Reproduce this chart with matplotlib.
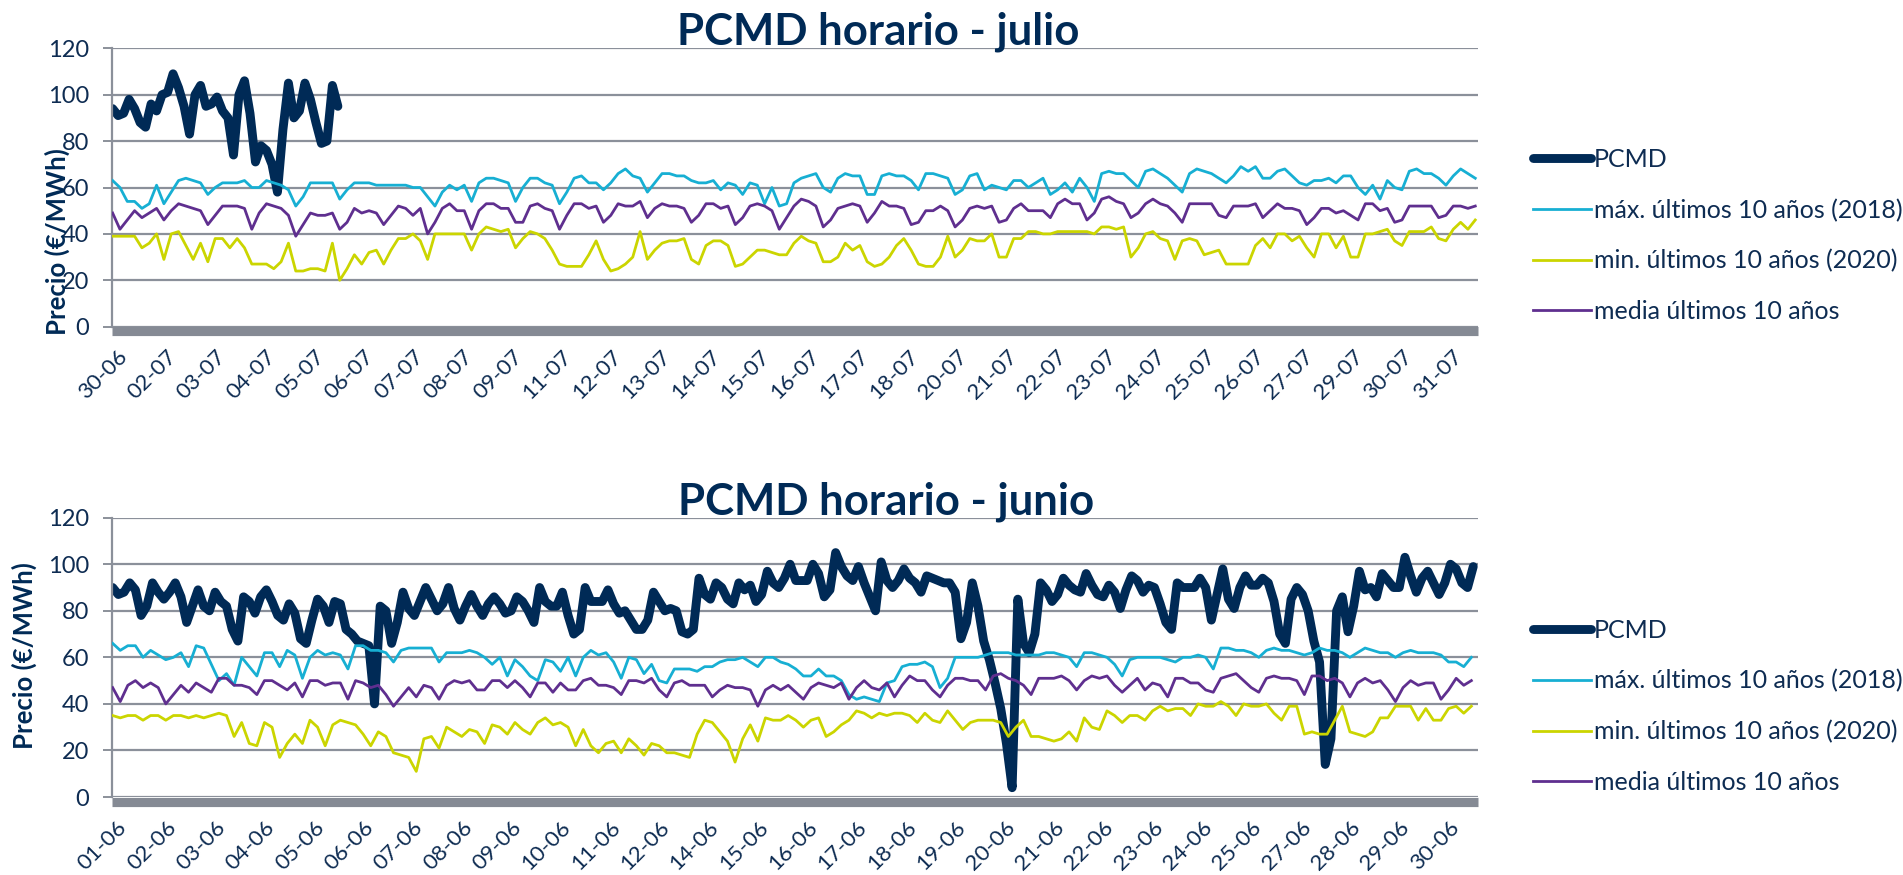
import numpy as np
import matplotlib
matplotlib.use("Agg")
import matplotlib.pyplot as plt
from matplotlib.transforms import ScaledTranslation

plt.rcParams['font.family'] = ['Lato', 'DejaVu Sans']

# ---------------- DATA: July (hour index 0 = 30-06 22h) ----------------
JUL_PCMD_STEP = 3   # hours between PCMD samples
JUL_BAND_STEP = 4   # hours between band samples
JUL_N_HOURS = 746

jul_pcmd = [94, 91, 92, 98, 94, 88, 86, 96, 93, 100,
            101, 109, 103, 95, 83, 100, 104, 95, 96, 99,
            93, 90, 74, 100, 106, 92, 71, 78, 76, 70,
            58, 85, 105, 90, 93, 105, 98, 88, 79, 80,
            104, 95]

jul_max = [63, 60, 54, 54, 51, 53, 61, 53, 58, 63,
           64, 63, 62, 57, 60, 62, 62, 62, 63, 60,
           60, 63, 62, 61, 59, 52, 56, 62, 62, 62,
           62, 55, 59, 62, 62, 62, 61, 61, 61, 61,
           61, 60, 60, 56, 52, 58, 61, 59, 61, 54,
           62, 64, 64, 63, 62, 54, 60, 64, 64, 62,
           61, 53, 58,
           64, 65, 62, 62, 59, 62, 66, 68, 65, 64,
           58, 62, 66, 66, 65, 65, 63, 62, 62, 63,
           59, 62, 61, 57, 62, 61, 53, 60, 52, 53,
           62, 64, 65, 66, 60, 58, 64, 66, 65, 65,
           57, 57, 65, 66, 65, 65, 63, 59, 66, 66,
           65, 64, 57, 59, 65, 66, 59, 61, 60, 59,
           63, 63, 60,
           62, 64, 57, 59, 62, 58, 64, 60, 54, 66,
           67, 66, 66, 63, 60, 67, 68, 66, 64, 61,
           58, 66, 68, 67, 66, 64, 62, 65, 69, 67,
           69, 64, 64, 67, 68, 65, 62, 61, 63, 63,
           64, 62, 65, 65, 60, 57, 61, 55, 63, 60,
           59, 67, 68, 66, 66, 64, 61, 65, 68, 66,
           64]

jul_min = [39, 39, 39, 39, 34, 36, 40, 29, 40, 41,
           35, 29, 36, 28, 38, 38, 34, 38, 34, 27,
           27, 27, 25, 28, 36, 24, 24, 25, 25, 24,
           36, 20, 25, 31, 27, 32, 33, 27, 33, 38,
           38, 40, 37, 29, 40, 40, 40, 40, 40, 33,
           40, 43, 42, 41, 42, 34, 38, 41, 40, 38,
           33, 27, 26,
           26, 26, 31, 37, 29, 24, 25, 27, 30, 41,
           29, 33, 36, 37, 37, 38, 29, 27, 35, 37,
           37, 35, 26, 27, 30, 33, 33, 32, 31, 31,
           36, 39, 37, 36, 28, 28, 30, 36, 33, 35,
           28, 26, 27, 30, 35, 38, 33, 27, 26, 26,
           30, 39, 30, 33, 38, 37, 37, 40, 30, 30,
           38, 38, 41,
           41, 40, 40, 41, 41, 41, 41, 41, 40, 43,
           43, 42, 43, 30, 34, 40, 41, 38, 37, 29,
           37, 38, 37, 31, 32, 33, 27, 27, 27, 27,
           35, 38, 34, 40, 40, 37, 39, 34, 30, 40,
           40, 34, 39, 30, 30, 40, 40, 41, 42, 37,
           35, 41, 41, 41, 43, 38, 37, 42, 45, 42,
           46]

jul_media = [49, 42, 46, 50, 47, 49, 51, 46, 50, 53,
             52, 51, 50, 44, 48, 52, 52, 52, 51, 42,
             49, 53, 52, 51, 48, 39, 44, 49, 48, 48,
             49, 42, 45, 51, 49, 50, 49, 44, 48, 52,
             51, 48, 51, 40, 45, 51, 53, 50, 50, 42,
             50, 53, 53, 51, 51, 45, 45, 52, 53, 51,
             50, 42, 48,
             53, 53, 51, 52, 45, 48, 53, 52, 52, 54,
             47, 51, 53, 52, 52, 51, 45, 48, 53, 53,
             51, 52, 44, 47, 52, 53, 52, 50, 42, 47,
             52, 55, 54, 52, 43, 46, 51, 52, 53, 52,
             45, 49, 54, 52, 52, 51, 44, 45, 50, 50,
             52, 50, 43, 46, 51, 52, 51, 52, 45, 46,
             51, 53, 50,
             50, 50, 47, 53, 55, 53, 53, 46, 49, 55,
             56, 54, 53, 47, 49, 53, 55, 53, 52, 49,
             45, 53, 53, 53, 53, 48, 47, 52, 52, 52,
             53, 47, 50, 53, 51, 51, 50, 44, 47, 51,
             51, 49, 50, 48, 46, 53, 53, 50, 51, 45,
             46, 52, 52, 52, 52, 47, 48, 52, 52, 51,
             52]

jul_tick_step = 27
jul_tick_labels = ['30-06', '02-07', '03-07', '04-07', '05-07', '06-07', '07-07',
                   '08-07', '09-07', '11-07', '12-07', '13-07', '14-07', '15-07',
                   '16-07', '17-07', '18-07', '20-07', '21-07', '22-07', '23-07',
                   '24-07', '25-07', '26-07', '27-07', '29-07', '30-07', '31-07']

# ---------------- DATA: June (hour index 0 = 01-06 0h) ----------------
JUN_PCMD_STEP = 3
JUN_BAND_STEP = 4
JUN_N_HOURS = 720

jun_pcmd = [90, 87, 88, 92, 89, 78, 82, 92, 88, 85,
            88, 92, 86, 75, 82, 89, 82, 80, 88, 84,
            82, 72, 67, 86, 84, 79, 86, 89, 84, 78,
            76, 83, 79, 68, 66, 76, 85, 82, 75, 84,
            83, 72, 70, 67, 66, 65, 40, 82, 80, 66,
            75, 88, 81, 78, 84, 90, 85, 80, 83, 90,
            81, 76, 82, 87, 82, 78, 83, 86, 83, 79,
            80, 86, 84, 80, 75, 90, 84, 82, 82, 88,
            78,
            70, 72, 90, 84, 84, 84, 89, 83, 79, 80,
            76, 72, 72, 76, 88, 84, 80, 81, 80, 71,
            70, 72, 94, 87, 85, 92, 90, 85, 83, 92,
            89, 91, 84, 87, 97, 92, 90, 94, 100, 93,
            93, 93, 100, 96, 86, 89, 105, 99, 95, 93,
            99, 92, 86, 80, 101, 93, 90, 93, 98, 94,
            92, 88, 95, 94, 93, 92, 92, 88, 68, 75,
            92, 82, 67, 59, 49, 38, 23,
            4, 85, 66, 62, 70, 92, 89, 84, 87, 94,
            91, 89, 88, 96, 91, 87, 86, 91, 88, 81,
            89, 95, 93, 88, 91, 90, 83, 75, 72, 92,
            90, 90, 90, 94, 90, 76, 87, 98, 85, 81,
            90, 95, 91, 91, 94, 92, 84, 70, 66, 85,
            90, 87, 80, 67, 58, 14, 25, 80, 86, 71,
            82, 97, 89, 90, 86, 96, 93, 90, 90, 103,
            95, 88, 94, 97, 92, 87, 92, 100, 98, 92,
            90, 99]

jun_max = [66, 63, 65, 65, 60, 63, 61, 59, 60, 62,
           56, 65, 64, 57, 50, 53, 48, 60, 56, 52,
           62, 62, 56, 63, 61, 51, 60, 63, 61, 62,
           61, 55, 65, 65, 63, 63, 62, 58, 63, 64,
           64, 64, 64, 58, 62, 62, 62, 63, 62, 60,
           57, 60, 52, 59, 56, 52, 50, 59, 58, 54,
           60,
           52, 60, 63, 61, 62, 58, 51, 60, 59, 53,
           57, 50, 49, 55, 55, 55, 54, 56, 56, 58,
           59, 59, 60, 58, 56, 60, 60, 58, 57, 55,
           52, 52, 55, 52, 52, 50, 44, 42, 43, 42,
           41, 49, 50, 56, 57, 57, 58, 56, 47, 51,
           60, 60, 60, 60, 61, 62, 62, 62, 61, 61,
           61, 61, 62, 62, 61, 60, 56, 62, 62, 61,
           60, 57, 52, 59, 60, 60, 60, 60, 59, 58,
           60, 60, 61, 60, 55, 64, 64, 63, 63, 62,
           60, 63, 64, 63, 63, 62, 61, 62, 64, 63,
           63, 62, 60, 62, 64, 63, 62, 62, 60, 62,
           63, 62, 62, 62, 61, 58, 58, 56, 60]

jun_min = [35, 34, 35, 35, 33, 35, 35, 33, 35, 35,
           34, 35, 34, 35, 36, 35, 26, 32, 23, 22,
           32, 30, 17, 23, 27, 23, 33, 30, 22, 31,
           33, 32, 31, 27, 22, 28, 26, 19, 18, 17,
           11, 25, 26, 21, 30, 28, 26, 29, 28, 23,
           31, 30, 27, 32, 29, 27, 32, 34, 31, 32,
           30,
           22, 29, 22, 19, 23, 24, 19, 25, 22, 18,
           23, 22, 19, 19, 18, 17, 27, 33, 32, 28,
           24, 15, 25, 31, 24, 34, 33, 33, 35, 33,
           30, 33, 34, 26, 28, 31, 33, 37, 36, 34,
           36, 35, 36, 36, 35, 32, 36, 33, 32, 37,
           33, 29, 32, 33, 33, 33, 32, 26, 30, 33,
           26, 26, 25, 24, 25, 28, 24, 34, 30, 29,
           37, 35, 32, 35, 35, 33, 37, 39, 37, 38,
           38, 35, 40, 39, 39, 41, 39, 35, 40, 39,
           39, 40, 36, 33, 39, 39, 27, 28, 27, 27,
           33, 39, 28, 27, 26, 28, 34, 34, 39, 39,
           39, 33, 38, 33, 33, 38, 39, 36, 39]

jun_media = [47, 41, 48, 50, 47, 49, 47, 40, 44, 48,
             45, 49, 47, 45, 51, 51, 48, 48, 47, 44,
             50, 50, 48, 46, 49, 43, 50, 50, 48, 49,
             49, 42, 50, 49, 47, 48, 44, 39, 43, 47,
             43, 48, 47, 42, 48, 50, 49, 50, 46, 46,
             50, 50, 47, 50, 47, 43, 49, 49, 45, 49,
             46,
             46, 50, 51, 48, 48, 47, 44, 50, 50, 49,
             51, 46, 43, 49, 50, 48, 48, 48, 43, 46,
             48, 47, 47, 46, 39, 46, 48, 46, 48, 45,
             42, 47, 49, 48, 47, 49, 42, 47, 50, 47,
             46, 49, 43, 48, 52, 50, 50, 46, 43, 48,
             51, 51, 50, 50, 46, 52, 53, 51, 50, 48,
             44, 51, 51, 51, 52, 50, 46, 50, 52, 51,
             52, 48, 45, 48, 51, 46, 49, 48, 43, 51,
             51, 49, 49, 46, 45, 51, 52, 53, 50, 47,
             45, 51, 52, 51, 51, 50, 44, 52, 52, 50,
             51, 49, 43, 49, 51, 49, 50, 46, 41, 47,
             50, 48, 49, 49, 42, 46, 51, 48, 50]

jun_tick_step = 26
jun_tick_labels = ['01-06', '02-06', '03-06', '04-06', '05-06', '06-06', '07-06',
                   '08-06', '09-06', '10-06', '11-06', '12-06', '14-06', '15-06',
                   '16-06', '17-06', '18-06', '19-06', '20-06', '21-06', '22-06',
                   '23-06', '24-06', '25-06', '27-06', '28-06', '29-06', '30-06']

series_labels = ['PCMD', 'máx. últimos 10 años (2018)',
                 'min. últimos 10 años (2020)', 'media últimos 10 años']

# ---------------- STYLE ----------------
NAVY = '#002a56'
TEXT = '#0e2c52'
CYAN = '#17afd3'
YELL = '#cbd500'
PURP = '#5f2f8f'
GRID = '#8b909a'
BAR = '#858a94'

W, H = 1903, 875
fig = plt.figure(figsize=(W / 100, H / 100), dpi=100)


def px_rect(left, top, right, bottom):
    return [left / W, 1 - bottom / H, (right - left) / W, (bottom - top) / H]


def draw(rect, pcmd, pstep, mx, mn, md, bstep, nh, tstep, tlabels,
         title, title_xy, ylab_xy, leg_top):
    ax = fig.add_axes(rect)
    xp = np.arange(len(pcmd)) * pstep
    xb = np.arange(len(mx)) * bstep
    l0, = ax.plot(xp, pcmd, color=NAVY, lw=6.4, solid_joinstyle='round',
                  solid_capstyle='round', zorder=2)
    l1, = ax.plot(xb, mx, color=CYAN, lw=2.0, zorder=3)
    l2, = ax.plot(xb, mn, color=YELL, lw=2.0, zorder=3)
    l3, = ax.plot(xb, md, color=PURP, lw=2.0, zorder=3)

    ax.set_xlim(-0.5, nh - 0.5)
    ax.set_ylim(0, 120)
    ax.set_yticks(range(0, 121, 20))
    ax.yaxis.grid(True, color=GRID, lw=1.6, zorder=0)
    ax.set_axisbelow(True)
    for s in ('top', 'right'):
        ax.spines[s].set_visible(False)
    ax.spines['left'].set_color(GRID)
    ax.spines['left'].set_linewidth(1.6)
    ax.spines['bottom'].set_color(BAR)
    ax.spines['bottom'].set_linewidth(6.6)
    ax.spines['bottom'].set_position(('outward', 3.3))
    ax.spines['bottom'].set_capstyle('butt')
    ax.tick_params(axis='y', length=6.5, width=1.4, color=GRID, pad=10,
                   labelsize=17, labelcolor=TEXT)
    ticks = np.arange(len(tlabels)) * tstep
    ax.set_xticks(ticks)
    ax.set_xticklabels(tlabels, rotation=45, ha='right', va='top',
                       rotation_mode='anchor')
    ax.tick_params(axis='x', length=0, pad=11, labelsize=16, labelcolor=TEXT)
    off = ScaledTranslation(4 / 100, 0, fig.dpi_scale_trans)
    for lab in ax.get_xticklabels():
        lab.set_transform(lab.get_transform() + off)

    fig.text(title_xy[0] / W, 1 - title_xy[1] / H, title, ha='center',
             va='baseline', fontsize=31.5, fontweight='bold', color=NAVY)
    fig.text(ylab_xy[0] / W, 1 - ylab_xy[1] / H, 'Precio (€/MWh)',
             rotation=90, ha='center', va='center', fontsize=18.5,
             fontweight='bold', color=NAVY)
    ax.legend([l0, l1, l2, l3], series_labels, loc='upper left',
              bbox_to_anchor=(1533 / W, 1 - leg_top / H),
              bbox_transform=fig.transFigure, frameon=False, fontsize=18,
              handlelength=2.3, handletextpad=0.12, labelspacing=1.1,
              borderpad=0, borderaxespad=0, labelcolor=TEXT)
    return ax


draw(px_rect(111.7, 48.3, 1478, 326.7), jul_pcmd, JUL_PCMD_STEP,
     jul_max, jul_min, jul_media, JUL_BAND_STEP, JUL_N_HOURS,
     jul_tick_step, jul_tick_labels, 'PCMD horario - julio',
     (878, 44), (57, 242), 148)

draw(px_rect(111.7, 517.7, 1478, 797), jun_pcmd, JUN_PCMD_STEP,
     jun_max, jun_min, jun_media, JUN_BAND_STEP, JUN_N_HOURS,
     jun_tick_step, jun_tick_labels, 'PCMD horario - junio',
     (886, 515), (24, 656), 619)

fig.savefig('out.png', dpi=100)
